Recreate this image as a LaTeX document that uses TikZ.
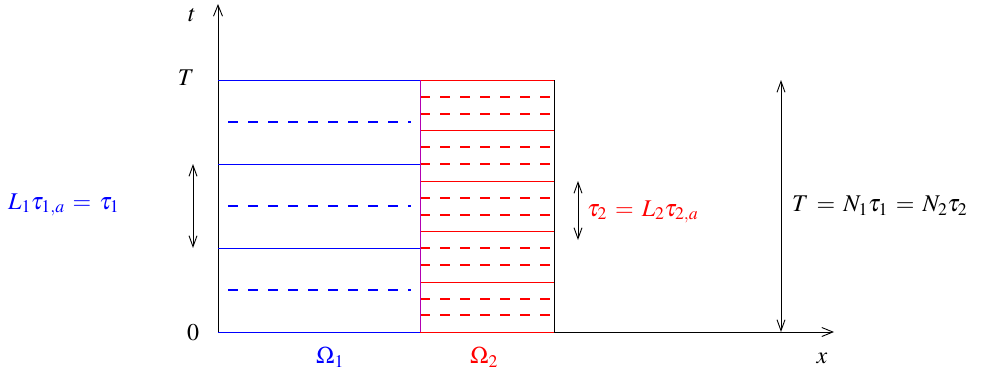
\documentclass[tikz,border=0pt]{standalone}
\usepackage{mathptmx}
\usetikzlibrary{arrows.meta}
\begin{document}
\begin{tikzpicture}[x=1pt,y=-1pt,
  ax/.style={line width=0.9pt,-{Straight Barb[length=11pt,width=9pt]}},
  dim/.style={line width=0.9pt,{Straight Barb[length=11pt,width=8pt]}-{Straight Barb[length=11pt,width=8pt]}},
  bsolid/.style={blue,line width=1pt},
  bdash/.style={blue,line width=1.4pt,dash pattern=on 10pt off 10pt,dash phase=-10pt},
  rsolid/.style={red,line width=1pt},
  rdash/.style={red,line width=1.4pt,dash pattern=on 10pt off 10pt},
  lab/.style={inner sep=0pt,font=\fontsize{24}{28}\selectfont}]
\useasboundingbox (0,0) rectangle (981,376);
\thickmuskip=6mu plus 2mu
% axes
\coordinate (O) at (218,332);
\coordinate (tend) at (218,4);
\coordinate (xend) at (834,332);
\draw[ax] (O) -- (tend);
\draw[ax] (O) -- (xend);
% blue part
\foreach \y in {80,164,248,332} \draw[bsolid] (218,\y) -- (420,\y);
\foreach \y in {122,206,290} \draw[bdash] (218,\y) -- (411,\y);
% red part
\foreach \y in {80,130,181,231,282,332} \draw[rsolid] (420,\y) -- (554,\y);
\foreach \y in {97,114,147,164,198,215,248,265,299,315} \draw[rdash] (420,\y) -- (552,\y);
\draw[violet!60!magenta,line width=1pt] (420,80) -- (420,332);
\draw[line width=1pt] (554,80) -- (554,332);
% labels
\node[lab] (t) at (192,15) {$t$};
\node[lab] (Tl) at (186,78) {$T$};
\node[lab] (zero) at (193,333) {$0$};
\node[lab] (xl) at (822,358) {$x$};
\node[lab,blue] (om1) at (330,357) {$\Omega_1$};
\node[lab,red] (om2) at (484,357) {$\Omega_2$};
% dimension arrows
\coordinate (a1) at (193,164);
\coordinate (b1) at (193,248);
\draw[dim] (a1) -- (b1);
\node[lab,blue,anchor=west] (L1) at (8,205) {$L_1\tau_{1,a}=\tau_1$};
\coordinate (a2) at (578,181);
\coordinate (b2) at (578,240);
\draw[dim] (a2) -- (b2);
\node[lab,red,anchor=west] (L2) at (587,212) {$\tau_2=L_2\tau_{2,a}$};
\coordinate (a3) at (781,80);
\coordinate (b3) at (781,332);
\draw[dim] (a3) -- (b3);
\node[lab,anchor=west] (TN) at (792,206) {$T=N_1\tau_1=N_2\tau_2$};
\end{tikzpicture}
\end{document}
